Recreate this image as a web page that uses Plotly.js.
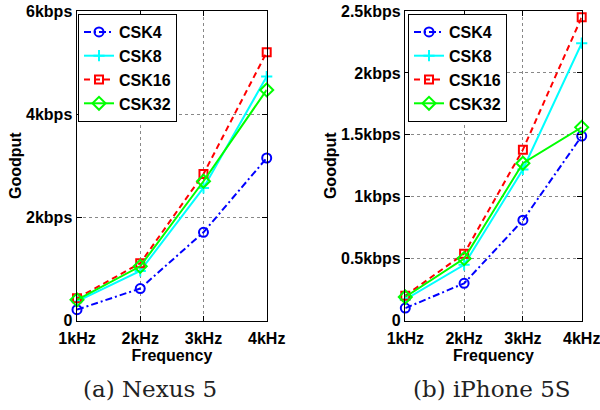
<!DOCTYPE html>
<html>
<head>
<meta charset="utf-8">
<script src="https://cdn.plot.ly/plotly-3.0.1.min.js"></script>
<style>html,body{margin:0;padding:0;background:#fff;}#chart{width:600px;height:410px;}</style>
</head>
<body>
<div id="chart"></div>
<script>
// Frequencies (x) and tick labels
const freq = [1, 2, 3, 4];
const freqLabels = ['1kHz', '2kHz', '3kHz', '4kHz'];
const seriesNames = ['CSK4', 'CSK8', 'CSK16', 'CSK32'];

// (a) Nexus 5 goodput, kbps
const nexusCSK4  = [0.21, 0.62, 1.71, 3.15];
const nexusCSK8  = [0.37, 0.96, 2.57, 4.73];
const nexusCSK16 = [0.43, 1.11, 2.84, 5.20];
const nexusCSK32 = [0.40, 1.05, 2.70, 4.47];

// (b) iPhone 5S goodput, kbps
const iphoneCSK4  = [0.10, 0.30, 0.81, 1.49];
const iphoneCSK8  = [0.17, 0.45, 1.22, 2.24];
const iphoneCSK16 = [0.20, 0.54, 1.38, 2.45];
const iphoneCSK32 = [0.19, 0.50, 1.27, 1.56];

// y tick values / labels
const nexusTickVals = [0, 2, 4, 6];
const nexusTickText = ['0', '2kbps', '4kbps', '6kbps'];
const iphoneTickVals = [0, 0.5, 1, 1.5, 2, 2.5];
const iphoneTickText = ['0', '0.5kbps', '1kbps', '1.5kbps', '2kbps', '2.5kbps'];

const styles = [
  {color: '#0000ff', dash: '7px,3px,2px,3px', symbol: 'circle-open', size: 9},
  {color: '#00ffff', dash: 'solid', symbol: 'cross-thin-open', size: 8},
  {color: '#ff0000', dash: '6px,4px', symbol: 'square-open', size: 8},
  {color: '#00ff00', dash: 'solid', symbol: 'diamond-open', size: 10}
];

function mk(y, i, xa, ya, leg) {
  const s = styles[i];
  return {
    x: freq, y: y, name: seriesNames[i], type: 'scatter', mode: 'lines+markers',
    xaxis: xa, yaxis: ya, legend: leg, cliponaxis: false,
    line: {color: s.color, width: 2, dash: s.dash},
    marker: {symbol: s.symbol, size: s.size, color: s.color, line: {color: s.color, width: 2}}
  };
}

const nexus = [nexusCSK4, nexusCSK8, nexusCSK16, nexusCSK32];
const iphone = [iphoneCSK4, iphoneCSK8, iphoneCSK16, iphoneCSK32];
const data = [];
nexus.forEach((y, i) => data.push(mk(y, i, 'x', 'y', 'legend')));
iphone.forEach((y, i) => data.push(mk(y, i, 'x2', 'y2', 'legend2')));

const tickFont = {family: 'Liberation Sans, Arial, sans-serif', size: 16, color: '#000', weight: 'bold'};
const titleFont = {family: 'Liberation Sans, Arial, sans-serif', size: 16, color: '#000', weight: 'bold'};

function xax(domain, anchor) {
  return {
    domain: domain, anchor: anchor, range: [1, 4], tickvals: freq, ticktext: freqLabels,
    tickfont: tickFont, ticks: 'inside', ticklen: 5, tickcolor: '#000', tickwidth: 1,
    ticklabeloverflow: 'allow', ticklabelstandoff: 3,
    showline: true, linecolor: '#000', linewidth: 1.5, mirror: 'ticks',
    showgrid: true, gridcolor: '#888', griddash: 'dot', gridwidth: 1, zeroline: false,
    title: {text: 'Frequency', font: titleFont, standoff: 0}
  };
}
function yax(domain, anchor, range, vals, text) {
  return {
    domain: domain, anchor: anchor, range: range, tickvals: vals, ticktext: text,
    tickfont: tickFont, ticks: 'inside', ticklen: 5, tickcolor: '#000', tickwidth: 1,
    ticklabeloverflow: 'allow',
    showline: true, linecolor: '#000', linewidth: 1.5, mirror: 'ticks',
    showgrid: true, gridcolor: '#888', griddash: 'dot', gridwidth: 1, zeroline: false,
    title: {text: 'Goodput', font: titleFont, standoff: 0}
  };
}

const legendBase = {
  font: {family: 'Liberation Sans, Arial, sans-serif', size: 16, color: '#000', weight: 'bold'},
  bgcolor: '#fff', bordercolor: '#000', borderwidth: 1,
  xanchor: 'left', yanchor: 'top', itemwidth: 30, tracegroupgap: 0
};

const yDom = [89.5 / 410, 399 / 410];
const layout = {
  width: 600, height: 410,
  margin: {l: 0, r: 0, t: 0, b: 0},
  paper_bgcolor: '#fff', plot_bgcolor: '#fff',
  showlegend: true,
  xaxis: xax([77 / 600, 266.7 / 600], 'y'),
  yaxis: yax(yDom, 'x', [0, 6], nexusTickVals, nexusTickText),
  xaxis2: xax([405.3 / 600, 581.7 / 600], 'y2'),
  yaxis2: yax(yDom, 'x2', [0, 2.5], iphoneTickVals, iphoneTickText),
  legend: Object.assign({}, legendBase, {x: 78 / 600, y: 396 / 410}),
  legend2: Object.assign({}, legendBase, {x: 408 / 600, y: 396 / 410}),
  annotations: [
    {text: '(a) Nexus 5', xref: 'paper', yref: 'paper', x: 150 / 600, y: 21 / 410,
     xanchor: 'center', yanchor: 'middle', showarrow: false,
     font: {family: 'DejaVu Serif, serif', size: 23, color: '#222'}},
    {text: '(b) iPhone 5S', xref: 'paper', yref: 'paper', x: 492 / 600, y: 21 / 410,
     xanchor: 'center', yanchor: 'middle', showarrow: false,
     font: {family: 'DejaVu Serif, serif', size: 23, color: '#222'}}
  ]
};

Plotly.newPlot('chart', data, layout, {staticPlot: true, displayModeBar: false});
</script>
</body>
</html>
